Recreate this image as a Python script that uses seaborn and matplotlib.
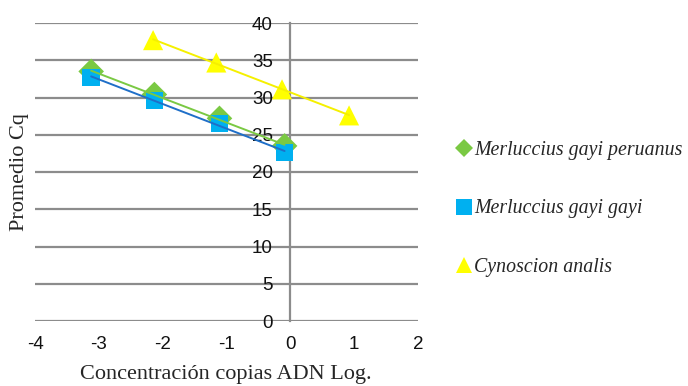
import numpy as np
import pandas as pd
import matplotlib
matplotlib.use("Agg")
import matplotlib.pyplot as plt
import seaborn as sns
from matplotlib.lines import Line2D

# Data
series_names = ["Merluccius gayi peruanus", "Merluccius gayi gayi", "Cynoscion analis"]
x_mgp = [-3.12, -2.13, -1.11, -0.09]
y_mgp = [33.5, 30.4, 27.2, 23.5]
x_mgg = [-3.12, -2.13, -1.11, -0.09]
y_mgg = [32.7, 29.6, 26.5, 22.6]
x_ca = [-2.15, -1.16, -0.13, 0.92]
y_ca = [37.7, 34.7, 31.1, 27.6]
x_ticks = [-4, -3, -2, -1, 0, 1, 2]
y_ticks = [0, 5, 10, 15, 20, 25, 30, 35, 40]

sns.set_theme(style="white")
plt.rcParams['font.family'] = ['Liberation Sans', 'DejaVu Sans']

fig = plt.figure(figsize=(6.88, 3.86), dpi=100)
ax = fig.add_axes([35/688, 1-321/386, (418-35)/688, (321-23)/386])

marker_colors = ["#7ac943", "#00b0f0", "#ffff00"]
line_colors = ["#7ac943", "#1f6fc8", "#f5f000"]
markers = ["D", "s", "^"]
msizes = [170, 160, 210]
xs = [x_mgp, x_mgg, x_ca]
ys = [y_mgp, y_mgg, y_ca]

for i in range(3):
    df = pd.DataFrame({"x": xs[i], "y": ys[i]})
    sns.scatterplot(data=df, x="x", y="y", ax=ax, marker=markers[i], s=msizes[i],
                    color=marker_colors[i], edgecolor="none", zorder=3 + i, linewidth=0)
for i in range(3):
    df = pd.DataFrame({"x": xs[i], "y": ys[i]})
    sns.regplot(data=df, x="x", y="y", ax=ax, scatter=False, ci=None, truncate=True,
                line_kws=dict(color=line_colors[i], lw=1.4, zorder=10))

ax.set_xlim(-4, 2)
ax.set_ylim(0, 40)
ax.set_xticks(x_ticks)
ax.set_yticks(y_ticks)
ax.set_xticklabels([str(v) for v in x_ticks])
ax.set_yticklabels([str(v) for v in y_ticks])
ax.yaxis.grid(True, color="#8c8c8c", lw=1.6, zorder=0)
ax.xaxis.grid(False)
ax.set_axisbelow(True)
for s in ["top", "right", "bottom"]:
    ax.spines[s].set_visible(False)
ax.spines["left"].set_position(("data", 0))
ax.spines["left"].set_color("#8c8c8c")
ax.spines["left"].set_linewidth(1.6)
ax.tick_params(axis="x", length=0, pad=10.5, labelsize=13.5, colors="#111111")
ax.tick_params(axis="y", length=0, pad=12.5, labelsize=13.5, colors="#111111")
ax.set_xlabel("")
ax.set_ylabel("")

fig.text(226/688, 1-374/386, "Concentración copias ADN Log.", ha="center", va="center",
         fontsize=16, family=["Liberation Serif", "DejaVu Serif"])
fig.text(20/688, 1-172/386, "Promedio Cq", ha="center", va="center", rotation=90,
         fontsize=16, family=["Liberation Serif", "DejaVu Serif"])

handles = [Line2D([], [], ls="none", marker=markers[i], color=marker_colors[i],
                  markersize=[9, 11, 11][i], markeredgewidth=0) for i in range(3)]
leg = fig.legend(handles, series_names, loc="center left", bbox_to_anchor=(456/688, 1-209/386),
                 frameon=False, borderpad=0, borderaxespad=0, handletextpad=0.12,
                 handlelength=0.8, labelspacing=2.0,
                 prop=dict(family="Liberation Serif", style="italic", size=14.3))

fig.savefig("out.png", dpi=100)
